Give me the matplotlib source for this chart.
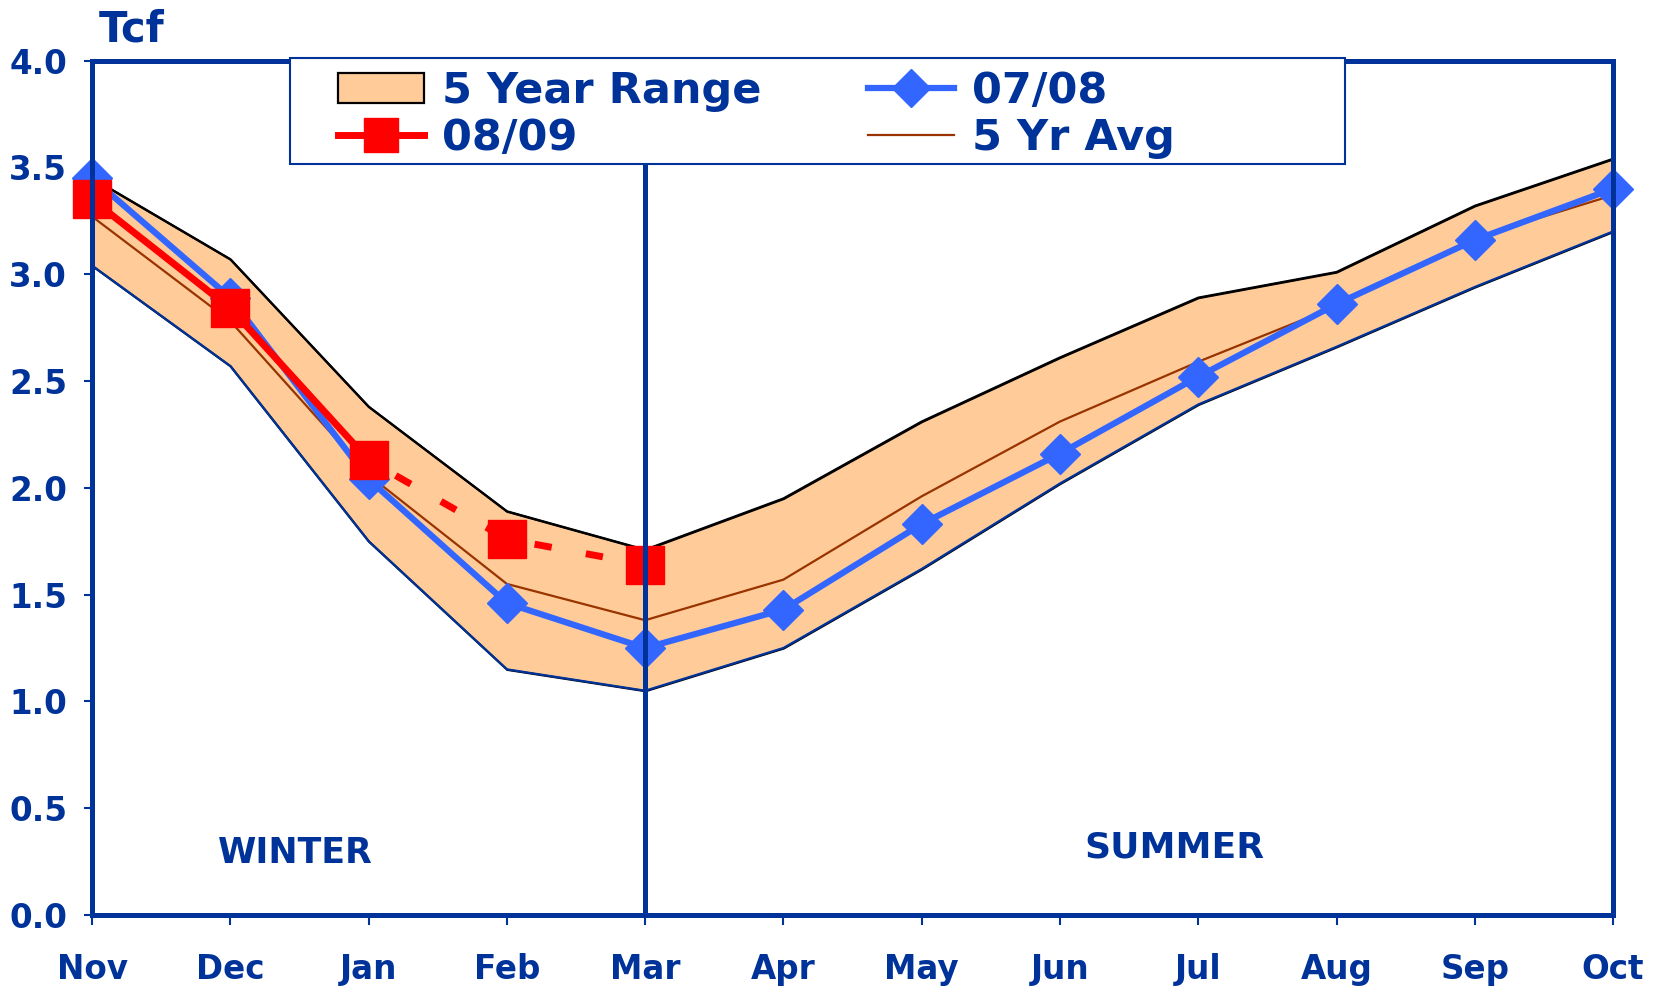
import matplotlib
matplotlib.use("Agg")
import matplotlib.pyplot as plt
from matplotlib.patches import Patch, Rectangle
from matplotlib.lines import Line2D

plt.rcParams['font.family'] = ['DejaVu Sans']
plt.rcParams['font.weight'] = 'bold'

months = ["Nov", "Dec", "Jan", "Feb", "Mar", "Apr", "May", "Jun", "Jul", "Aug", "Sep", "Oct"]
range_high = [3.45, 3.07, 2.38, 1.89, 1.71, 1.95, 2.31, 2.61, 2.89, 3.01, 3.32, 3.54]
range_low = [3.04, 2.57, 1.75, 1.15, 1.05, 1.25, 1.62, 2.02, 2.39, 2.66, 2.94, 3.20]
avg_5yr = [3.27, 2.78, 2.06, 1.55, 1.38, 1.57, 1.96, 2.31, 2.59, 2.85, 3.17, 3.37]
season_0708 = [3.45, 2.89, 2.04, 1.46, 1.25, 1.43, 1.83, 2.16, 2.52, 2.86, 3.16, 3.40]
season_0809_actual = [3.35, 2.84, 2.13]
season_0809_proj = [1.76, 1.64]
yticks = [0.0, 0.5, 1.0, 1.5, 2.0, 2.5, 3.0, 3.5, 4.0]

NAVY = "#003399"
BLUE = "#3366FF"
RED = "#FF0000"
FILL = "#FFCC99"
BROWN = "#993300"

fig = plt.figure(figsize=(16.64, 9.86), dpi=100)
ax = fig.add_axes([0.0553, 0.072, 0.9141, 0.8666])

x = list(range(len(months)))

# five-year band with its upper and lower bounds
ax.fill_between(x, range_low, range_high, facecolor=FILL, edgecolor="black",
                linewidth=1.6, zorder=1)
ax.plot(x, range_high, color="black", lw=1.6, zorder=2)
ax.plot(x, range_low, color=NAVY, lw=1.6, zorder=2)
ax.plot(x, avg_5yr, color=BROWN, lw=1.6, zorder=3)

# last season
ax.plot(x, season_0708, color=BLUE, lw=4.5, marker="D", ms=20,
        mec=BLUE, mfc=BLUE, zorder=4, clip_on=False)

# current season: actual then projected
n_act = len(season_0809_actual)
ax.plot(x[:n_act], season_0809_actual, color=RED, lw=5, marker="s", ms=28,
        zorder=5, clip_on=False)
proj_x = x[n_act - 1:n_act + len(season_0809_proj)]
proj_y = [season_0809_actual[-1]] + season_0809_proj
ax.plot(proj_x, proj_y, color=RED, lw=5, ls=(3, (2.5, 5.0)), zorder=5)
ax.plot(proj_x[1:], proj_y[1:], ls="none", marker="s", ms=28, color=RED, zorder=5)

ax.axvline(months.index("Mar"), color=NAVY, lw=3.6, zorder=6)

ax.set_xlim(0, len(months) - 1)
ax.set_ylim(0, 4.0)
ax.set_xticks(x)
ax.set_xticklabels(months)
ax.set_yticks(yticks)
ax.set_yticklabels([f"{v:.1f}" for v in yticks])

for s in ax.spines.values():
    s.set_color(NAVY)
    s.set_linewidth(3.6)
    s.set_zorder(7)

ax.tick_params(axis="x", direction="out", length=7, width=1.5, color=NAVY,
               labelcolor=NAVY, labelsize=23.5, pad=20)
ax.tick_params(axis="y", direction="out", length=6, width=1.5, color=NAVY,
               labelcolor=NAVY, labelsize=23.5, pad=12)

ax.text(1.47, 0.245, "WINTER", color=NAVY, fontsize=25, fontweight="bold",
        ha="center", va="baseline", zorder=8)
ax.text(7.83, 0.27, "SUMMER", color=NAVY, fontsize=26, fontweight="bold",
        ha="center", va="baseline", zorder=8)
fig.text(0.0791, 0.958, "Tcf", color=NAVY, fontsize=30, fontweight="bold",
         ha="center", va="baseline")

# legend box
frame = Rectangle((0.1741, 0.8332), 0.6344, 0.1076, transform=fig.transFigure,
                  facecolor="white", edgecolor=NAVY, linewidth=1.5,
                  clip_on=False, zorder=9)
ax.add_patch(frame)

handles = [
    Patch(facecolor=FILL, edgecolor="black", linewidth=1.6),
    Line2D([], [], color=RED, lw=5, marker="s", ms=24),
    Line2D([], [], color=BLUE, lw=4.5, marker="D", ms=19),
    Line2D([], [], color=BROWN, lw=1.6),
]
labels = ["5 Year Range", "08/09", "07/08", "5 Yr Avg"]
leg = ax.legend(handles, labels, ncol=2, loc="center left",
                bbox_to_anchor=(0.2029, 0.8835), bbox_transform=fig.transFigure,
                frameon=False, fontsize=31, handlelength=2.0, handleheight=0.7,
                handletextpad=0.42, labelspacing=0.12, borderpad=0,
                columnspacing=2.48, borderaxespad=0)
leg.set_zorder(10)
for t in leg.get_texts():
    t.set_color(NAVY)
    t.set_fontweight("bold")

fig.savefig("out.png", dpi=100)
